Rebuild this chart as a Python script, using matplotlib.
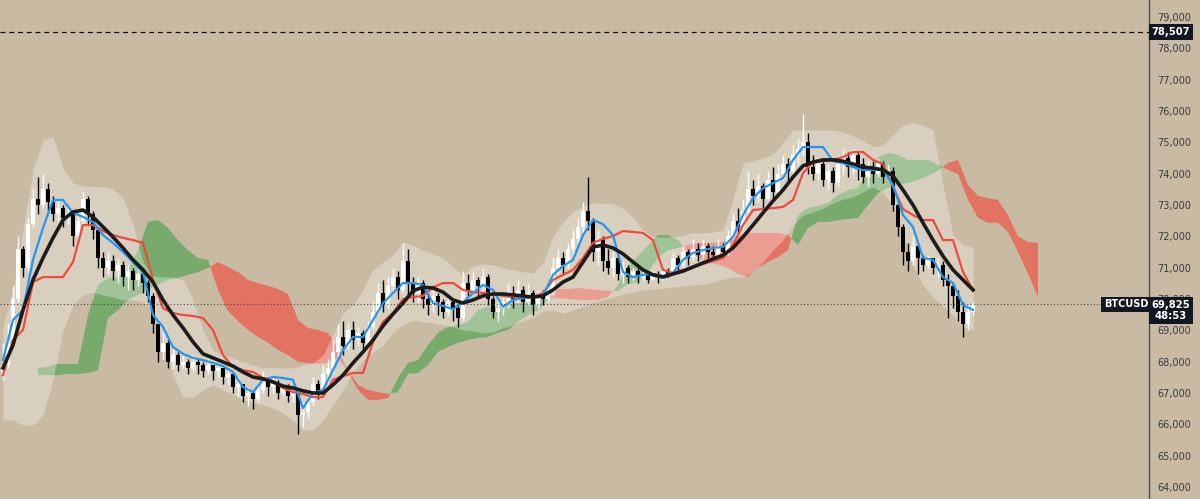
import numpy as np
import matplotlib.pyplot as plt
from matplotlib import transforms
from matplotlib.ticker import FuncFormatter

# BTCUSD candles (open of each bar = previous close)
first_open = 67600
closes = [
    67900, 68700, 70000, 71600, 71000, 72400, 73200, 73000, 73500, 73100,
    72700, 72900, 72600, 72700, 72000, 72500, 73200, 72700, 72200, 71300,
    71000, 71200, 70900, 71100, 70700, 70900, 70600, 70800, 70500, 70100,
    69200, 68300, 68600, 68000, 68200, 67900, 68000, 67800, 68000, 67900,
    67700, 67900, 67700, 67800, 67500, 67600, 67200, 67300, 66900, 67000,
    66800, 67100, 67400, 67200, 67300, 67000, 67200, 66900, 67000, 66300,
    66400, 66700, 67300, 67000, 67600, 67800, 68300, 68800, 68500, 69000,
    68700, 68900, 68600, 69100, 69600, 70200, 69800, 70400, 70700, 70300,
    71200, 70500, 70200, 70500, 70000, 69800, 70100, 69900, 69600, 69900,
    69700, 69400, 70500, 70300, 70600, 70400, 70700, 70000, 69600, 69700,
    69900, 70200, 70000, 70300, 69900, 70200, 69800, 70100, 70000, 70200,
    71000, 71300, 71100, 71600, 71900, 72300, 72800, 72500, 71500, 71900,
    71200, 71000, 71300, 70800, 71000, 70700, 70900, 70700, 70800, 70600,
    70800, 70700, 70900, 70800, 71300, 71100, 71500, 71300, 71600, 71400,
    71700, 71500, 71400, 71700, 71500, 72000, 72500, 72300, 72800, 73500,
    73300, 73600, 73200, 73800, 73400, 74000, 74300, 74100, 74600, 74800,
    75000, 74200, 74000, 74300, 73800, 74100, 73700, 74300, 74500, 74200,
    74600, 74300, 73900, 74200, 74000, 74300, 73900, 74100, 73000, 72300,
    71500, 71200, 71700, 71300, 71100, 71300, 71000, 71100, 70600, 70400,
    70100, 69600, 69200, 69600, 69825]
highs = [
    68600, 69200, 70400, 72000, 71700, 72600, 73500, 73900, 74000, 73700,
    73300, 73200, 73000, 72900, 72800, 72700, 73400, 73300, 72800, 72300,
    71500, 71500, 71400, 71300, 71200, 71100, 71000, 71000, 70900, 70600,
    70200, 69200, 68900, 68700, 68400, 68300, 68200, 68100, 68200, 68100,
    68000, 68100, 67900, 67900, 67800, 67700, 67600, 67500, 67300, 67200,
    67100, 67300, 67700, 67500, 67500, 67400, 67300, 67300, 67200, 67000,
    66700, 67000, 67500, 67400, 67900, 68100, 68700, 69200, 69300, 69200,
    69300, 69100, 69000, 69300, 69900, 70500, 70600, 70700, 71000, 70900,
    71800, 71600, 70700, 70700, 70600, 70200, 70300, 70200, 70000, 70100,
    70000, 69800, 70900, 70800, 70900, 70700, 71000, 70800, 70100, 70000,
    70100, 70500, 70400, 70600, 70400, 70500, 70300, 70300, 70300, 70400,
    71300, 71600, 71500, 71800, 72200, 72600, 73100, 73900, 72600, 72200,
    72000, 71600, 71500, 71400, 71200, 71100, 71000, 71000, 70900, 70900,
    70900, 70900, 71000, 71000, 71500, 71400, 71700, 71600, 71900, 71800,
    71900, 71800, 71700, 71900, 71800, 72200, 72700, 72900, 73200, 74100,
    73800, 74000, 73700, 74100, 74200, 74300, 74600, 74500, 74900, 75100,
    75900, 75300, 74600, 74500, 74400, 74300, 74200, 74600, 74800, 74700,
    74800, 74700, 74500, 74400, 74400, 74500, 74400, 74300, 74200, 73100,
    72400, 71800, 72000, 71800, 71400, 71400, 71300, 71300, 71200, 70800,
    70500, 70300, 69900, 69800, 69900]
lows = [
    67400, 67800, 68600, 69900, 70700, 70900, 72300, 72700, 72900, 72800,
    72500, 72500, 72300, 72400, 71700, 71900, 72400, 72400, 71900, 71000,
    70700, 70800, 70600, 70500, 70400, 70300, 70300, 70400, 70200, 69900,
    68900, 68000, 68100, 67800, 67800, 67700, 67800, 67600, 67700, 67600,
    67500, 67600, 67400, 67500, 67300, 67300, 67000, 66900, 66700, 66600,
    66500, 66700, 67000, 66900, 67000, 66800, 66900, 66700, 66700, 65700,
    65900, 66200, 66600, 66800, 66900, 67300, 67600, 68100, 68200, 68400,
    68400, 68500, 68400, 68500, 69000, 69500, 69600, 69700, 70200, 70000,
    70200, 70100, 69900, 69900, 69700, 69500, 69600, 69500, 69400, 69500,
    69300, 69100, 69300, 70100, 70200, 70100, 70300, 69800, 69400, 69300,
    69500, 69700, 69700, 69900, 69600, 69800, 69500, 69700, 69800, 69900,
    70100, 70800, 70800, 71000, 71400, 71800, 72100, 72200, 71200, 71100,
    70900, 70800, 70700, 70600, 70500, 70500, 70600, 70500, 70600, 70500,
    70600, 70500, 70600, 70700, 70800, 70900, 71000, 71100, 71200, 71200,
    71300, 71300, 71200, 71300, 71300, 71400, 71900, 72100, 72200, 72700,
    73000, 73100, 72900, 73200, 73200, 73400, 73800, 73700, 74000, 74300,
    74600, 74000, 73800, 73800, 73600, 73500, 73400, 73600, 74000, 73900,
    74000, 73800, 73700, 73600, 73700, 73900, 73700, 73800, 72800, 72000,
    71100, 70900, 71100, 70800, 70900, 71000, 70800, 70700, 70400, 69400,
    69700, 69300, 68800, 69000, 69500]

# indicator lines, one value every second bar
tenkan = [
    68050, 69330, 69650, 71250, 72270, 73160, 73160, 72750, 72620, 72460,
    72040, 71790, 71500, 71180, 70860, 69490, 69110, 68470, 68250, 68120,
    68050, 67960, 67860, 67670, 67190, 67030, 67420, 67510, 67480, 67420,
    66520, 67000, 67100, 67730, 68370, 68790, 68790, 69330, 69870, 70190,
    70510, 70510, 70450, 69870, 69780, 69680, 69900, 70190, 70450, 70290,
    69750, 69970, 70030, 70060, 70100, 70770, 71050, 71250, 72040, 72520,
    72390, 72040, 70860, 70700, 70770, 70800, 70740, 70830, 71250, 71470,
    71560, 71630, 71660, 71980, 72680, 73220, 73540, 73700, 73860, 74440,
    74850, 74850, 74850, 74400, 74340, 74210, 74120, 74120, 74120, 73640,
    72680, 72300, 71310, 71250, 70700, 70510, 69810, 69650]
kijun = [
    67570, 68690, 69010, 70540, 70700, 70700, 70700, 71180, 72360, 72360,
    72170, 72040, 71950, 71880, 71790, 70610, 69710, 69550, 69490, 69460,
    69390, 69010, 68210, 67830, 67730, 67670, 67480, 67380, 67160, 67030,
    66970, 66870, 66870, 67420, 67540, 67640, 67640, 68630, 69270, 69550,
    70000, 70060, 70100, 70380, 70510, 70510, 70290, 70220, 70190, 70160,
    70100, 70060, 70060, 70060, 70190, 70610, 70770, 70930, 71310, 71790,
    71920, 72010, 72170, 72140, 72110, 71880, 70930, 70830, 70930, 71020,
    71120, 71210, 71310, 71720, 72360, 72840, 72870, 72900, 72940, 73160,
    74020, 74370, 74400, 74440, 74530, 74690, 74690, 74440, 74310, 73580,
    72870, 72680, 72520, 72520, 71880, 71880, 70860, 70290]
ma = [
    67800, 68530, 69650, 70610, 71310, 71950, 72520, 72780, 72840, 72620,
    72300, 71980, 71630, 71250, 70930, 70540, 69970, 69490, 69080, 68630,
    68250, 68120, 67990, 67860, 67670, 67510, 67450, 67350, 67220, 67160,
    67070, 67000, 67000, 67260, 67570, 67960, 68310, 68690, 69140, 69520,
    69870, 70260, 70380, 70350, 70220, 69970, 69870, 69970, 70100, 70160,
    70160, 70130, 70100, 70060, 70100, 70290, 70540, 70700, 71180, 71660,
    71720, 71630, 71440, 71180, 70930, 70770, 70700, 70800, 70890, 71020,
    71150, 71280, 71400, 71630, 71980, 72360, 72750, 73130, 73480, 73890,
    74250, 74370, 74440, 74440, 74400, 74310, 74210, 74180, 74120, 73930,
    73480, 73000, 72430, 71880, 71370, 70930, 70610, 70290]
band_upper = [
    69110, 70290, 72200, 74120, 75070, 75170, 74180, 73700, 73610, 73580,
    73580, 73510, 73220, 72360, 71180, 70740, 70700, 70700, 70610, 69970,
    69010, 68370, 68210, 68120, 67990, 67890, 67800, 67800, 67800, 67800,
    67890, 67960, 68210, 68850, 69550, 69810, 70290, 70930, 71180, 71400,
    71820, 71720, 71560, 71440, 71310, 71020, 70770, 71050, 71120, 71090,
    70990, 70930, 70860, 70830, 71150, 71980, 72460, 72780, 72970, 73060,
    73060, 73030, 72900, 72590, 72200, 71980, 71980, 71980, 72040, 72110,
    72110, 72140, 72200, 73160, 74340, 74400, 74500, 74630, 74980, 75390,
    75390, 75390, 75390, 75390, 75330, 75200, 75070, 74850, 74920, 75240,
    75550, 75620, 75550, 75390, 73640, 72040, 71720, 71660]
band_lower = [
    66140, 66140, 65980, 65980, 66300, 67420, 69010, 69810, 70130, 70220,
    70130, 70060, 69970, 69970, 69900, 69650, 68690, 67570, 66870, 66870,
    67100, 67260, 67100, 66940, 66780, 66680, 66620, 66520, 66360, 66140,
    65820, 65820, 66140, 66620, 67100, 67670, 68050, 68310, 68530, 68950,
    69170, 69330, 69270, 69230, 69170, 69110, 69010, 68980, 68920, 68950,
    69080, 69170, 69300, 69430, 69620, 69650, 69550, 69650, 69750, 69900,
    69970, 70060, 70160, 70220, 70290, 70320, 70350, 70380, 70420, 70450,
    70480, 70540, 70640, 70700, 70700, 70860, 71180, 71560, 71880, 72360,
    72680, 72780, 72900, 73060, 73190, 73260, 73420, 73580, 73380, 73000,
    72140, 71090, 70450, 70060, 69780, 69490, 69110, 69010]

# ichimoku cloud, starting at bar 7, every second bar
span_a = [
    67800, 67830, 67930, 67930, 67930, 69490, 70450, 70670, 70700, 70930,
    71560, 72460, 72520, 72270, 71880, 71560, 71310, 71250, 70290, 69620,
    69300, 69010, 68790, 68600, 68370, 68210, 67990, 67960, 67930, 67960,
    68120, 67670, 67100, 66780, 66780, 66840, 67480, 67960, 68050, 68530,
    68920, 69110, 69170, 69270, 69650, 69750, 69750, 69810, 69870, 69900,
    69970, 70030, 70030, 70000, 69970, 69970, 69970, 70060, 70450, 71050,
    71370, 71720, 72040, 72040, 71880, 71500, 71340, 71180, 71090, 70990,
    70800, 70700, 70990, 71180, 71340, 71560, 72680, 72900, 72970, 73060,
    73320, 73480, 73540, 74120, 74530, 74660, 74600, 74440, 74440, 74440,
    74280, 74120, 73990, 73160, 72590, 72430, 72430, 72140, 71500, 70800,
    70060]
span_b = [
    67570, 67570, 67570, 67610, 67610, 67640, 67730, 69390, 69650, 69970,
    70130, 70290, 70450, 70610, 70670, 70770, 70860, 70990, 71180, 71020,
    70860, 70610, 70510, 70420, 70320, 70160, 69330, 69080, 69010, 68920,
    68440, 67730, 67260, 67100, 67030, 66970, 67030, 67610, 67640, 67890,
    68310, 68470, 68600, 68690, 68760, 68790, 68920, 69010, 69270, 69490,
    69650, 69970, 70320, 70320, 70350, 70320, 70290, 70260, 70260, 70480,
    70540, 70860, 71310, 71560, 71630, 71720, 71790, 71790, 71790, 71880,
    72010, 72110, 72110, 72110, 72110, 72040, 71720, 72270, 72460, 72460,
    72520, 72550, 72590, 73000, 73380, 73540, 73640, 73700, 73800, 73930,
    74090, 74340, 74440, 73640, 73290, 73220, 73160, 72680, 72010, 71820,
    71790]

last_price = 69825
countdown = "48:53"
alert_price = 78507
price_ticks = list(range(64000, 80000, 1000))

BG = "#c9bba3"

fig = plt.figure(figsize=(12, 4.99), dpi=100)
fig.patch.set_facecolor(BG)
ax = fig.add_axes([0, 0, 1149 / 1200, 1])
ax.set_facecolor(BG)

closes = np.array(closes, dtype=float)
opens = np.r_[first_open, closes[:-1]]
bars = np.arange(len(closes))
line_x = np.arange(0, len(closes), 2)
cloud_x = np.arange(7, 7 + 2 * len(span_a), 2)

# cloud
a = np.array(span_a, dtype=float)
b = np.array(span_b, dtype=float)
ax.fill_between(cloud_x, a, b, where=a >= b, interpolate=True,
                color="#43a047", alpha=0.6, lw=0, zorder=1)
ax.fill_between(cloud_x, a, b, where=a < b, interpolate=True,
                color="#f44336", alpha=0.6, lw=0, zorder=1)

# envelope
ax.fill_between(line_x, band_lower, band_upper, color="white",
                alpha=0.3, lw=0, zorder=2)

# candles
up = closes >= opens
cols = np.where(up, "white", "black")
ax.vlines(bars, lows, highs, colors=cols, lw=1, zorder=3)
ax.bar(bars, closes - opens, bottom=opens, width=0.7, color=cols,
       lw=0, zorder=3)

ax.plot(line_x, kijun, color="#ee4a3e", lw=1.6, zorder=4)
ax.plot(line_x, tenkan, color="#2196f3", lw=1.6, zorder=4)
ax.plot(line_x, ma, color="#1c1c1c", lw=2.6, zorder=5)

ax.axhline(alert_price, color="#111111", lw=0.9, ls=(0, (4, 3)), zorder=6)
ax.axhline(last_price, xmax=1103 / 1149, color="#4a4a4a", lw=0.8,
           ls=(0, (1, 2)), zorder=6)

ax.set_xlim(-0.6, 229.2)
ax.set_ylim(63617, 79543)
ax.set_xticks([])
ax.yaxis.tick_right()
ax.set_yticks(price_ticks)
ax.yaxis.set_major_formatter(FuncFormatter(lambda v, p: f"{v:,.0f}"))
ax.tick_params(axis="y", length=0, pad=6, labelsize=7, labelcolor="#3b3b3b")
for s in ["top", "left", "bottom"]:
    ax.spines[s].set_visible(False)
ax.spines["right"].set_color("#4d4d4d")
ax.spines["right"].set_linewidth(1)

tr = transforms.blended_transform_factory(fig.transFigure, ax.transData)
box = dict(boxstyle="square,pad=0.3", fc="#131722", ec="none")
fig.text(1171 / 1200, alert_price, f"{alert_price:,}", transform=tr,
         ha="center", va="center", color="white", fontsize=7.2,
         fontweight="bold", bbox=box)
fig.text(1126 / 1200, last_price, "BTCUSD", transform=tr, ha="center",
         va="center", color="white", fontsize=7, fontweight="bold", bbox=box)
ax.annotate(f"{last_price:,}\n{countdown}", xy=(1171 / 1200, last_price),
            xycoords=tr, xytext=(0, -4.5), textcoords="offset points",
            ha="center", va="center", color="white", fontsize=7.2,
            linespacing=1.1, fontweight="bold", bbox=box,
            annotation_clip=False)

fig.savefig("out.png", dpi=100, facecolor=BG)
